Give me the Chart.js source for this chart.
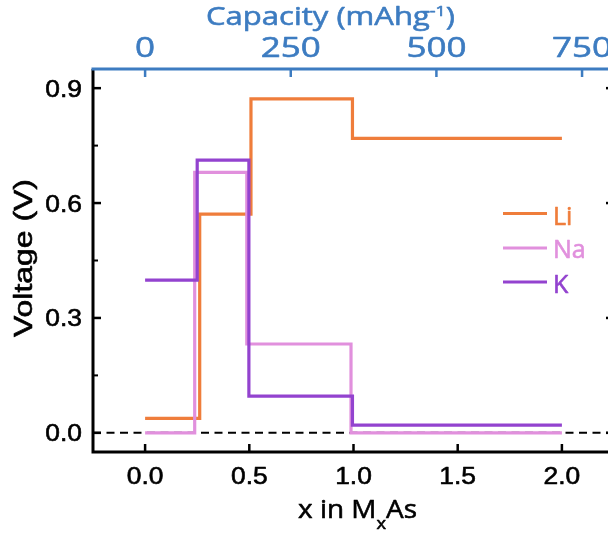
<!DOCTYPE html>
<html>
<head>
<meta charset="utf-8">
<title>Voltage profiles of MxAs</title>
<script src="https://cdn.jsdelivr.net/npm/chart.js@4.4.1/dist/chart.umd.min.js"></script>
<style>
  html, body { margin: 0; padding: 0; background: #fff; overflow: hidden; }
  #wrap { width: 608px; height: 533px; overflow: hidden; }
  canvas { display: block; }
</style>
</head>
<body>
<div id="wrap"><canvas id="c" width="625" height="533"></canvas></div>
<script>
// Step profiles: each voltage holds from its x until the next x.
const liX = [0, 0.262, 0.508, 0.995, 2.0];
const liV = [0.038, 0.571, 0.872, 0.769, 0.769];
const naX = [0, 0.238, 0.488, 0.988, 2.0];
const naV = [0.0, 0.680, 0.232, 0.0, 0.0];
const kX  = [0, 0.250, 0.498, 0.995, 2.0];
const kV  = [0.399, 0.712, 0.096, 0.020, 0.020];

const seriesNames = ['Li', 'Na', 'K'];

// Axis ticks
const xTicks = [0, 0.5, 1.0, 1.5, 2.0];
const xTickLabels = ['0.0', '0.5', '1.0', '1.5', '2.0'];
const yTicks = [0, 0.3, 0.6, 0.9];
const yTickLabels = ['0.0', '0.3', '0.6', '0.9'];
const yMinorTicks = [0.15, 0.45, 0.75];
const capTicks = [0, 250, 500, 750];

// Theoretical capacity of As per alkali atom (mAh/g)
const MAH_PER_X = 357.7;
const X_MIN = -0.25, X_MAX = 2.25;

const COLORS = { Li: '#EF7D3B', Na: '#E190DD', K: '#9343CF' };
const BLUE = '#3D7CC1';
const SANS = '"Liberation Sans", Arial, sans-serif';
const HUMANIST = '"Open Sans", "Noto Sans", sans-serif';

function toPoints(xs, vs) {
  return xs.map((x, i) => ({ x, y: vs[i] }));
}

// Draw a sequence of text runs on one baseline, stretched horizontally,
// with a light outline to give the strokes a little more weight
function drawRuns(ctx, runs, x, y, opts) {
  let natural = 0;
  for (const r of runs) { ctx.font = r.font; natural += ctx.measureText(r.text).width; }
  const sx = opts.width ? opts.width / natural : (opts.sx || 1);
  const w = natural * sx;
  const align = opts.align || 'left';
  const start = align === 'center' ? x - w / 2 : align === 'right' ? x - w : x;
  ctx.save();
  ctx.translate(start, y);
  ctx.scale(sx, 1);
  ctx.textAlign = 'left';
  ctx.textBaseline = 'alphabetic';
  ctx.strokeStyle = ctx.fillStyle;
  ctx.lineWidth = opts.weight == null ? 0.6 : opts.weight;
  ctx.lineJoin = 'round';
  let cx = 0;
  for (const r of runs) {
    ctx.font = r.font;
    ctx.fillText(r.text, cx, r.dy || 0);
    if (ctx.lineWidth > 0) ctx.strokeText(r.text, cx, r.dy || 0);
    cx += ctx.measureText(r.text).width;
  }
  ctx.restore();
}

function seg(ctx, x1, y1, x2, y2) {
  ctx.beginPath();
  ctx.moveTo(x1, y1);
  ctx.lineTo(x2, y2);
  ctx.stroke();
}

// Frame, inward ticks, axis labels and the in-plot legend
const decorations = {
  id: 'decorations',
  afterDraw(chart) {
    const { ctx, chartArea: a } = chart;
    const { x, y, x2 } = chart.scales;
    ctx.save();
    ctx.lineCap = 'butt';

    // inward tick marks
    ctx.strokeStyle = '#000';
    ctx.lineWidth = 2.5;
    for (const v of yTicks) {
      const py = y.getPixelForValue(v);
      seg(ctx, a.left, py, a.left + 8, py);
      seg(ctx, a.right, py, a.right - 8, py);
    }
    ctx.lineWidth = 2;
    for (const v of yMinorTicks) {
      const py = y.getPixelForValue(v);
      seg(ctx, a.left, py, a.left + 5, py);
      seg(ctx, a.right, py, a.right - 5, py);
    }
    ctx.lineWidth = 2.5;
    for (const v of xTicks) {
      const px = x.getPixelForValue(v);
      seg(ctx, px, a.bottom, px, a.bottom - 8);
    }
    ctx.strokeStyle = BLUE;
    for (const c of capTicks) {
      const px = x2.getPixelForValue(c);
      seg(ctx, px, a.top, px, a.top + 8);
    }

    // frame: black left/bottom/right, blue top
    ctx.lineWidth = 3;
    ctx.strokeStyle = '#000';
    ctx.lineJoin = 'miter';
    ctx.beginPath();
    ctx.moveTo(a.left, a.top);
    ctx.lineTo(a.left, a.bottom);
    ctx.lineTo(a.right, a.bottom);
    ctx.lineTo(a.right, a.top);
    ctx.stroke();
    ctx.strokeStyle = BLUE;
    ctx.lineCap = 'square';
    seg(ctx, a.left, a.top, a.right, a.top);
    ctx.lineCap = 'butt';

    // tick labels
    ctx.fillStyle = '#000';
    const tickFont = '24px ' + SANS;
    yTicks.forEach((v, i) => {
      const py = y.getPixelForValue(v);
      drawRuns(ctx, [{ text: yTickLabels[i], font: tickFont }], 82, py + 8.5, { sx: 1.1, align: 'right' });
    });
    xTicks.forEach((v, i) => {
      const px = x.getPixelForValue(v);
      drawRuns(ctx, [{ text: xTickLabels[i], font: tickFont }], px, 484, { sx: 1.1, align: 'center' });
    });
    ctx.fillStyle = BLUE;
    capTicks.forEach(c => {
      const px = x2.getPixelForValue(c);
      drawRuns(ctx, [{ text: String(c), font: '28px ' + HUMANIST }], px, 57, { sx: 1.25, align: 'center' });
    });

    // axis titles
    drawRuns(ctx, [
      { text: 'Capacity (mAhg', font: '26px ' + HUMANIST },
      { text: '-1', font: '15px ' + HUMANIST, dy: -9 },
      { text: ')', font: '26px ' + HUMANIST }
    ], 330.5, 25, { width: 249, align: 'center' });

    ctx.fillStyle = '#000';
    drawRuns(ctx, [
      { text: 'x in M', font: '26px ' + HUMANIST },
      { text: 'x', font: '17px ' + HUMANIST, dy: 11 },
      { text: 'As', font: '26px ' + HUMANIST }
    ], 357.5, 518, { width: 119, align: 'center' });

    ctx.save();
    ctx.translate(32, 258);
    ctx.rotate(-Math.PI / 2);
    drawRuns(ctx, [{ text: 'Voltage (V)', font: '26px ' + SANS }], 0, 0, { width: 158, align: 'center' });
    ctx.restore();

    // legend
    const legendRows = [
      { name: seriesNames[0], lineY: 213.5, base: 225 },
      { name: seriesNames[1], lineY: 248, base: 257.5 },
      { name: seriesNames[2], lineY: 282, base: 292.5 }
    ];
    for (const r of legendRows) {
      ctx.lineWidth = 3.2;
      ctx.strokeStyle = COLORS[r.name];
      seg(ctx, 503, r.lineY, 547, r.lineY);
      ctx.fillStyle = COLORS[r.name];
      drawRuns(ctx, [{ text: r.name, font: '25px ' + HUMANIST }], 553, r.base, { sx: 1.0 });
    }
    ctx.restore();
  }
};

const stepLine = (label, xs, vs, order) => ({
  label,
  data: toPoints(xs, vs),
  borderColor: COLORS[label],
  backgroundColor: COLORS[label],
  borderWidth: 3.2,
  stepped: 'before',
  pointRadius: 0,
  pointHoverRadius: 0,
  fill: false,
  borderCapStyle: 'butt',
  borderJoinStyle: 'miter',
  order
});

new Chart(document.getElementById('c'), {
  type: 'line',
  data: {
    datasets: [
      stepLine(seriesNames[0], liX, liV, 2),
      stepLine(seriesNames[1], naX, naV, 1),
      stepLine(seriesNames[2], kX, kV, 0),
      {
        label: 'zero',
        data: [{ x: X_MIN, y: 0 }, { x: X_MAX, y: 0 }],
        borderColor: '#000',
        borderWidth: 2,
        borderDash: [8, 5.5],
        pointRadius: 0,
        fill: false,
        order: 10
      }
    ]
  },
  options: {
    responsive: false,
    animation: false,
    events: [],
    layout: { padding: { left: 0, right: 11, top: 0, bottom: 0 } },
    plugins: { legend: { display: false }, tooltip: { enabled: false } },
    scales: {
      x: {
        type: 'linear', position: 'bottom', min: X_MIN, max: X_MAX,
        grid: { display: false, drawTicks: false }, border: { display: false },
        ticks: { display: false },
        afterFit: s => { s.height = 81; }
      },
      x2: {
        type: 'linear', position: 'top',
        min: X_MIN * MAH_PER_X, max: X_MAX * MAH_PER_X,
        grid: { display: false, drawTicks: false }, border: { display: false },
        ticks: { display: false },
        afterFit: s => { s.height = 69; }
      },
      y: {
        type: 'linear', position: 'left', min: -0.05, max: 0.95,
        grid: { display: false, drawTicks: false }, border: { display: false },
        ticks: { display: false },
        afterFit: s => { s.width = 93; }
      }
    }
  },
  plugins: [decorations]
});
</script>
</body>
</html>
